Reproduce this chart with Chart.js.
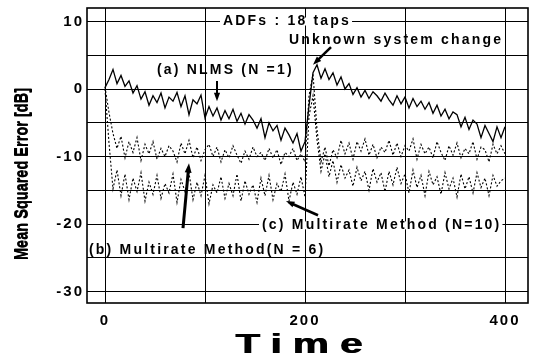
<!DOCTYPE html>
<html>
<head>
<meta charset="utf-8">
<script src="https://cdn.jsdelivr.net/npm/chart.js@4.4.0/dist/chart.umd.min.js"></script>
<style>
  html, body { margin: 0; padding: 0; background: #fff; }
</style>
</head>
<body>
<canvas id="mseChart" width="537" height="356"></canvas>
<script>
// time index (samples)
const times = [
  0, 4, 8, 12, 16, 20, 24, 28, 32, 36,
  40, 44, 48, 52, 56, 60, 64, 68, 72, 76,
  80, 84, 88, 92, 96, 100, 104, 108, 112, 116,
  120, 124, 128, 132, 136, 140, 144, 148, 152, 156,
  160, 164, 168, 172, 176, 180, 184, 188, 192, 196,
  200, 204, 208, 212, 216, 220, 224, 228, 232, 236,
  240, 244, 248, 252, 256, 260, 264, 268, 272, 276,
  280, 284, 288, 292, 296, 300, 304, 308, 312, 316,
  320, 324, 328, 332, 336, 340, 344, 348, 352, 356,
  360, 364, 368, 372, 376, 380, 384, 388, 392, 396,
  400
];

// (a) NLMS (N = 1)
const nlms = [
  0.2, 1.4, 2.9, 0.8, 2.0, 0.4, 1.2, -0.6, 0.5, -1.5,
  -0.4, -2.4, -1.0, -2.0, -0.6, -2.8, -1.2, -1.8, -0.5, -2.6,
  -1.0, -3.8, -1.6, -2.2, -0.9, -4.3, -2.6, -4.0, -2.8, -4.6,
  -3.2, -4.4, -3.0, -4.8, -3.6, -5.2, -3.8, -4.6, -5.8, -4.4,
  -7.2, -5.0, -6.2, -5.4, -7.6, -5.8, -6.8, -8.0, -6.6, -9.2,
  -7.8, -2.5, 2.4, 3.6, 1.6, 3.0, 1.4, 2.4, 0.6, 1.8,
  0.0, 0.8, -0.8, 0.2, -1.2, -0.2, -1.4, -0.4, -1.0, -1.8,
  -0.6, -1.6, -2.4, -1.0, -2.2, -1.2, -2.8, -1.4, -2.6, -1.8,
  -3.0, -2.0, -3.6, -2.4, -4.0, -3.0, -4.4, -3.4, -3.8, -5.6,
  -4.2, -6.0, -4.6, -5.2, -7.2, -5.4, -6.6, -7.8, -5.6, -7.2,
  -5.6
];

// (b) Multirate method (N = 6)
const multi6 = [
  0.3, -3.5, -6.6, -8.8, -7.0, -10.2, -7.8, -9.4, -7.2, -10.6,
  -8.2, -9.6, -7.8, -10.4, -8.8, -10.0, -8.4, -9.2, -10.8, -8.0,
  -9.6, -7.6, -10.2, -8.6, -10.6, -9.0, -8.2, -10.0, -8.6, -10.8,
  -9.0, -10.2, -8.4, -9.8, -11.0, -9.2, -10.4, -8.6, -10.0, -9.4,
  -10.6, -8.8, -10.2, -9.0, -11.2, -9.4, -10.0, -8.8, -10.6, -9.6,
  -10.8, -1.0, 2.2, -6.0, -10.8, -8.6, -11.4, -9.0, -10.2, -7.6,
  -9.6, -8.0, -10.4, -7.8, -9.2, -7.4, -9.8, -8.2, -10.2, -8.6,
  -9.4, -7.6, -9.8, -8.0, -10.0, -8.4, -9.2, -7.4, -10.4, -8.2,
  -9.6, -8.6, -10.2, -7.8, -9.4, -10.6, -8.4, -9.8, -8.0, -10.2,
  -8.8, -9.6, -7.8, -10.4, -8.6, -9.0, -10.8, -8.2, -9.6, -8.4,
  -9.6
];

// (c) Multirate method (N = 10)
const multi10 = [
  0.0, -8.0, -14.8, -12.0, -15.8, -12.6, -16.4, -13.2, -15.2, -12.4,
  -16.6, -13.8, -15.6, -12.8, -16.2, -14.0, -15.4, -12.6, -16.8, -13.4,
  -15.2, -12.4, -16.4, -13.8, -15.8, -12.8, -17.0, -14.2, -15.4, -13.0,
  -16.2, -14.0, -15.8, -12.6, -16.6, -13.6, -15.6, -14.2, -16.8, -13.2,
  -15.8, -12.8, -16.4, -14.0, -15.2, -12.6, -16.6, -13.8, -15.6, -13.0,
  -16.0, -4.0, -1.0, -7.5, -12.2, -9.6, -13.0, -10.6, -13.8, -11.2,
  -13.2, -12.0, -14.4, -11.6, -13.6, -12.2, -15.0, -11.8, -13.8, -12.4,
  -15.2, -12.2, -14.2, -11.6, -14.0, -12.6, -15.4, -12.0, -14.6, -12.8,
  -15.8, -12.2, -14.2, -13.0, -15.6, -12.4, -14.8, -13.2, -16.0, -12.6,
  -14.8, -13.0, -15.4, -12.4, -14.6, -13.2, -15.8, -12.8, -14.4, -13.6,
  -13.2
];

const xTicks = [0, 100, 200, 300, 400];
const yTicks = [-30, -25, -20, -15, -10, -5, 0, 5, 10];

const FONT = '"Liberation Sans", Arial, Helvetica, sans-serif';

function toPoints(vals) {
  return vals.map((v, i) => ({ x: times[i], y: v }));
}

// spaced-out / squeezed heavy lettering like the scanned figure
const baseDrawTitle = Chart.Scale.prototype.drawTitle;
Chart.Scale.prototype.drawTitle = function () {
  const ctx = this.ctx;
  ctx.save();
  ctx.shadowColor = '#000';
  ctx.shadowBlur = 0;
  if (this.id === 'x') {
    const cx = (this.left + this.right) / 2;
    ctx.letterSpacing = '7.4px';
    ctx.shadowOffsetX = 1.2;
    ctx.translate(cx - 3.5, 0);
    ctx.scale(1.5, 1);
    ctx.translate(-cx, 0);
  } else {
    const mid = (this.top + this.bottom) / 2;
    ctx.shadowOffsetX = 0.9;
    ctx.translate(0, mid + 18.5);
    ctx.scale(1, 0.765);
    ctx.translate(0, -mid);
  }
  baseDrawTitle.call(this);
  ctx.restore();
};
const baseDrawLabels = Chart.Scale.prototype.drawLabels;
Chart.Scale.prototype.drawLabels = function (area) {
  this.ctx.save();
  this.ctx.letterSpacing = '2px';
  baseDrawLabels.call(this, area);
  this.ctx.restore();
};

function drawNote(ctx, text, x, y, whiteBg) {
  ctx.save();
  ctx.font = 'bold 14px ' + FONT;
  ctx.letterSpacing = '2.2px';
  ctx.textAlign = 'left';
  ctx.textBaseline = 'middle';
  if (whiteBg) {
    const w = ctx.measureText(text).width;
    ctx.fillStyle = '#fff';
    ctx.fillRect(x - 3, y - 4, w + 4, 8);
  }
  ctx.fillStyle = '#000';
  ctx.fillText(text, x, y);
  ctx.restore();
}

function drawArrow(ctx, x1, y1, x2, y2, lw, head) {
  const ang = Math.atan2(y2 - y1, x2 - x1);
  ctx.save();
  ctx.strokeStyle = '#000';
  ctx.fillStyle = '#000';
  ctx.lineWidth = lw;
  ctx.beginPath();
  ctx.moveTo(x1, y1);
  ctx.lineTo(x2 - Math.cos(ang) * head * 0.8, y2 - Math.sin(ang) * head * 0.8);
  ctx.stroke();
  ctx.beginPath();
  ctx.moveTo(x2, y2);
  ctx.lineTo(x2 - head * Math.cos(ang - 0.35), y2 - head * Math.sin(ang - 0.35));
  ctx.lineTo(x2 - head * Math.cos(ang + 0.35), y2 - head * Math.sin(ang + 0.35));
  ctx.closePath();
  ctx.fill();
  ctx.restore();
}

const notesPlugin = {
  id: 'notes',
  afterDatasetsDraw(chart) {
    const { ctx, chartArea: a, scales: { x, y } } = chart;
    // frame
    ctx.save();
    ctx.strokeStyle = '#000';
    ctx.lineWidth = 1.6;
    ctx.strokeRect(a.left, a.top, a.right - a.left, a.bottom - a.top);
    ctx.restore();

    const px = v => x.getPixelForValue(v);
    const py = v => y.getPixelForValue(v);

    drawNote(ctx, 'ADFs : 18 taps', px(118), py(10), true);
    drawNote(ctx, 'Unknown system change', px(184), py(7.3), false);
    drawNote(ctx, '(a) NLMS (N =1)', px(52), py(2.8), false);
    drawNote(ctx, '(b) Multirate Method(N = 6)', px(-16), py(-23.9), false);
    drawNote(ctx, '(c) Multirate Method (N=10)', px(157), py(-20.2), true);

    drawArrow(ctx, px(112), py(1.2), px(112), py(-1.8), 2, 9);
    drawArrow(ctx, px(226), py(6.2), px(208), py(3.6), 2.5, 9);
    drawArrow(ctx, px(78), py(-20.6), px(84), py(-11.0), 3, 10);
    drawArrow(ctx, px(213), py(-18.7), px(181), py(-16.6), 2.5, 9);
  }
};

new Chart(document.getElementById('mseChart'), {
  type: 'line',
  data: {
    datasets: [
      {
        label: '(a) NLMS (N=1)',
        data: toPoints(nlms),
        borderColor: '#000',
        borderWidth: 1.3,
        pointRadius: 0,
        tension: 0
      },
      {
        label: '(b) Multirate Method (N=6)',
        data: toPoints(multi6),
        borderColor: '#000',
        borderWidth: 1.1,
        borderDash: [2, 2],
        pointRadius: 0,
        tension: 0
      },
      {
        label: '(c) Multirate Method (N=10)',
        data: toPoints(multi10),
        borderColor: '#000',
        borderWidth: 1.1,
        borderDash: [2, 2],
        pointRadius: 0,
        tension: 0
      }
    ]
  },
  options: {
    responsive: false,
    animation: false,
    layout: { padding: { left: 0, right: 9, top: 8, bottom: 0 } },
    plugins: {
      legend: { display: false },
      tooltip: { enabled: false }
    },
    scales: {
      x: {
        type: 'linear',
        min: -18,
        max: 423,
        afterBuildTicks: s => { s.ticks = xTicks.map(v => ({ value: v })); },
        afterFit: s => { s.height = 53; s.paddingLeft = 0; s.paddingRight = 0; },
        grid: { color: '#000', lineWidth: 1, drawTicks: false },
        border: { display: false },
        ticks: {
          autoSkip: false,
          maxRotation: 0,
          padding: 9,
          color: '#000',
          font: { family: FONT, size: 15, weight: 'bold' },
          callback: v => (v % 200 === 0 ? String(v) : '')
        },
        title: {
          display: true,
          text: 'Time',
          color: '#000',
          font: { family: FONT, size: 27, weight: 'bold', lineHeight: 0.8 },
          padding: { top: 0, bottom: 0 }
        }
      },
      y: {
        min: -31.7,
        max: 12,
        afterBuildTicks: s => { s.ticks = yTicks.map(v => ({ value: v })); },
        afterFit: s => { s.width = 87; s.paddingTop = 0; s.paddingBottom = 0; },
        grid: { color: '#000', lineWidth: 1, drawTicks: false },
        border: { display: false },
        ticks: {
          padding: 3,
          color: '#000',
          font: { family: FONT, size: 15, weight: 'bold' },
          callback: v => (v % 10 === 0 ? String(v) : '')
        },
        title: {
          display: true,
          text: 'Mean Squared Error [dB]',
          color: '#000',
          font: { family: FONT, size: 19, weight: 'bold', lineHeight: 1 },
          padding: { top: 12, bottom: 0 }
        }
      }
    }
  },
  plugins: [notesPlugin]
});
</script>
</body>
</html>
